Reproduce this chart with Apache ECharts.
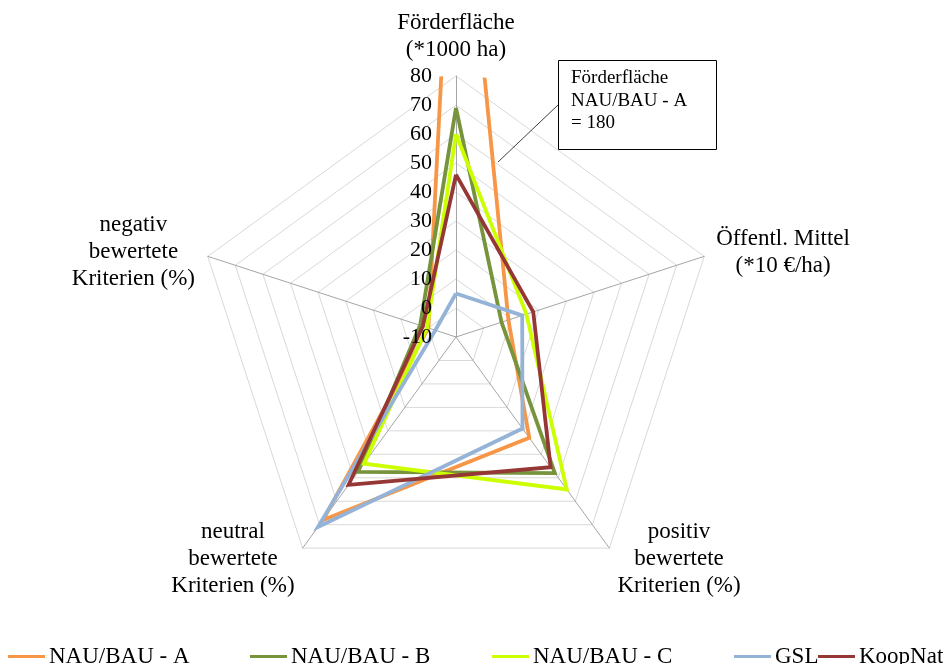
<!DOCTYPE html>
<html>
<head>
<meta charset="utf-8">
<script src="https://cdn.jsdelivr.net/npm/echarts@6/dist/echarts.min.js"></script>
<style>
  html, body { margin: 0; padding: 0; background: #fff; }
  #chart { width: 943px; height: 664px; }
</style>
</head>
<body>
<div id="chart"></div>
<script>
// Spokes of the radar, clockwise from the top
const criteria = [
  ['Förderfläche', '(*1000 ha)'],
  ['Öffentl. Mittel', '(*10 €/ha)'],
  ['positiv', 'bewertete', 'Kriterien (%)'],
  ['neutral', 'bewertete', 'Kriterien (%)'],
  ['negativ', 'bewertete', 'Kriterien (%)']
];
const seriesNames = ['NAU/BAU - A', 'NAU/BAU - B', 'NAU/BAU - C', 'GSL', 'KoopNat'];

// One value per spoke, same clockwise order as the criteria
const valuesA = [180, 9, 33, 68, 0];
const valuesB = [69, 6.5, 48, 47.5, 3];
const valuesC = [60, 15.5, 55, 44, 0.5];
const valuesGSL = [5, 14, 29, 71, -2.5];
const valuesKoopNat = [46, 18, 45.5, 53, 2];

const scaleMin = -10;
const scaleMax = 80;
const scaleStep = 10;

const seriesValues = [valuesA, valuesB, valuesC, valuesGSL, valuesKoopNat];
const seriesColors = ['#F79646', '#77933C', '#CCFF00', '#95B3D7', '#953735'];

const FONT = 'Liberation Serif';
const CENTER = [456, 337];
const RADIUS = 261;

// ECharts lays radar indicators out counter-clockwise; reorder so they read clockwise
const radarOrder = [0, 4, 3, 2, 1];
// Width of each name block so that its lines can be centred inside it
const nameWidths = [150, 133, 124, 124, 124];

const indicators = radarOrder.map(ci => ({
  name: String(ci),
  min: scaleMin,
  max: scaleMax
}));

const step = 360 / criteria.length;
const series = seriesNames.map((name, si) => {
  const vals = seriesValues[si];
  const data = vals.map((v, i) => [v, i * step]);
  data.push([vals[0], 360]);
  return {
    name: name,
    type: 'line',
    coordinateSystem: 'polar',
    data: data,
    symbol: 'none',
    clip: true,
    lineStyle: { color: seriesColors[si], width: 3.8, join: 'miter' },
    itemStyle: { color: seriesColors[si] },
    emphasis: { disabled: true },
    animation: false
  };
});

// Legend slots along the bottom
const legendLeft = [3, 245, 487, 729, 813];
const legends = seriesNames.map((name, i) => ({
  data: [name],
  left: legendLeft[i],
  top: 640,
  icon: 'rect',
  itemWidth: 37,
  itemHeight: 3,
  itemGap: 0,
  selectedMode: false,
  textStyle: { fontFamily: FONT, fontSize: 23, color: '#000', padding: [0, 0, 0, -1] }
}));

const chart = echarts.init(document.getElementById('chart'), null, { renderer: 'canvas' });
chart.setOption({
  backgroundColor: '#fff',
  animation: false,
  legend: legends,
  radar: {
    center: CENTER,
    radius: RADIUS,
    startAngle: 90,
    splitNumber: (scaleMax - scaleMin) / scaleStep,
    shape: 'polygon',
    indicator: indicators,
    nameGap: 13,
    axisName: {
      color: '#000',
      fontFamily: FONT,
      fontSize: 23,
      formatter: function (n) {
        const ci = Number(n);
        return criteria[ci].map(line => '{c' + ci + '|' + line + '}').join('\n');
      },
      rich: Object.fromEntries(criteria.map((c, ci) => ['c' + ci, {
        width: nameWidths[ci], align: 'center', fontFamily: FONT, fontSize: 23, lineHeight: 27, color: '#000'
      }]))
    },
    axisLine: { lineStyle: { color: '#a6a6a6', width: 1 } },
    splitLine: { lineStyle: { color: '#d9d9d9', width: 1 } },
    splitArea: { show: false },
    axisTick: { show: false },
    axisLabel: { show: false }
  },
  polar: { center: CENTER, radius: RADIUS },
  angleAxis: { type: 'value', min: 0, max: 360, startAngle: 90, clockwise: true, show: false },
  // Scale labels along the top spoke, drawn above the series lines
  radiusAxis: {
    type: 'value',
    min: scaleMin,
    max: scaleMax,
    interval: scaleStep,
    z: 10,
    axisLine: { show: false },
    axisTick: { show: false },
    splitLine: { show: false },
    axisLabel: { show: true, margin: 24, color: '#000', fontFamily: FONT, fontSize: 22 }
  },
  series: series,
  graphic: [
    { type: 'line', shape: { x1: 558, y1: 105, x2: 498, y2: 162 }, style: { stroke: '#404040', lineWidth: 1 }, z: 10 },
    { type: 'rect', shape: { x: 558.5, y: 60.5, width: 158, height: 89 }, style: { fill: '#fff', stroke: '#000', lineWidth: 1 }, z: 10 },
    {
      type: 'text', x: 571, y: 67, z: 11,
      style: {
        text: 'Förderfläche\n' + seriesNames[0] + '\n= ' + valuesA[0],
        fontFamily: FONT, fontSize: 19, lineHeight: 22.5, fill: '#000'
      }
    }
  ]
});
</script>
</body>
</html>
